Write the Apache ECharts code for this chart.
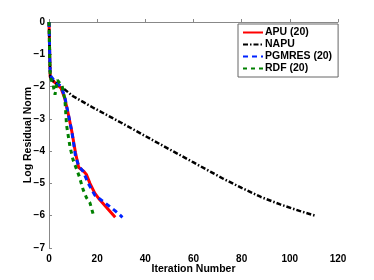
<!DOCTYPE html>
<html><head><meta charset="utf-8">
<script src="https://cdn.jsdelivr.net/npm/echarts@6/dist/echarts.min.js"></script>
<style>html,body{margin:0;padding:0;background:#fff}#c{width:374px;height:280px}</style>
</head><body><div id="c"></div>
<script>
var apuX = [0, 0.5, 2, 5, 6.5, 8, 9.5, 11, 12.3, 14.5, 15.5, 17, 19, 21, 24, 27.5];
var apuY = [0, -1.7, -1.85, -2.05, -2.35, -2.85, -3.4, -4.05, -4.5, -4.63, -4.72, -5.0, -5.3, -5.5, -5.75, -6.05];
var napuX = [0, 0.5, 2, 5, 10, 18, 30, 46, 60, 72, 80, 88, 96, 104, 111];
var napuY = [0, -1.7, -1.85, -2.0, -2.3, -2.64, -3.12, -3.78, -4.35, -4.84, -5.14, -5.42, -5.65, -5.85, -6.01];
var pgX = [0, 0.5, 2, 5, 6.5, 8, 9.5, 11, 12.3, 14.2, 16.3, 19, 22.5, 25.3, 27.5, 30.5];
var pgY = [0, -1.65, -1.8, -2.0, -2.3, -2.85, -3.4, -4.15, -4.45, -4.63, -5.0, -5.36, -5.56, -5.72, -5.85, -6.05];
var rdfX = [0, 0.5, 1.7, 2.5, 3.5, 5.5, 6.6, 7.3, 8.7, 10, 12.6, 14.2, 15.6, 17, 18.6];
var rdfY = [0, -1.7, -1.95, -2.25, -1.8, -2.0, -2.4, -3.2, -3.86, -4.27, -4.79, -5.2, -5.45, -5.6, -6.02];
var names = ['APU (20)', 'NAPU', 'PGMRES (20)', 'RDF (20)'];
var xTicks = [0, 20, 40, 60, 80, 100, 120];
var yTicks = [-7, -6, -5, -4, -3, -2, -1, 0];

function pairs(xs, ys) { return xs.map(function (x, i) { return [x, ys[i]]; }); }
var FONT = '"Liberation Sans", Arial, sans-serif';
var chart = echarts.init(document.getElementById('c'), null, {renderer: 'canvas'});
function lbl(v) { return String(v).replace('-', '\u2212'); }
function axisCommon(margin) {
  return {
    axisLine: {show: true, lineStyle: {color: '#888', width: 1}},
    axisTick: {show: true, inside: true, length: 3, lineStyle: {color: '#888'}},
    splitLine: {show: false},
    axisLabel: {color: '#000', fontWeight: 'bold', fontSize: 10, fontFamily: FONT, margin: margin, formatter: lbl},
    nameTextStyle: {color: '#000', fontWeight: 'bold', fontSize: 10.5, fontFamily: FONT},
    nameMoveOverlap: false
  };
}
chart.setOption({
  animation: false,
  backgroundColor: '#fff',
  grid: {left: 49, right: 36, top: 22, bottom: 32, containLabel: false},
  xAxis: Object.assign(axisCommon(6), {
    type: 'value', min: xTicks[0], max: xTicks[xTicks.length - 1], interval: 20,
    name: 'Iteration Number', nameLocation: 'middle', nameGap: 16
  }),
  yAxis: Object.assign(axisCommon(4), {
    type: 'value', min: yTicks[0], max: yTicks[yTicks.length - 1], interval: 1,
    name: 'Log Residual Norm', nameLocation: 'middle', nameGap: 15
  }),
  legend: {
    orient: 'vertical', left: 238, top: 24,
    padding: [3, 6, 3, 4], itemGap: 1, itemWidth: 20, itemHeight: 12,
    borderColor: '#666', borderWidth: 1, backgroundColor: '#fff',
    itemStyle: {opacity: 0},
    textStyle: {color: '#000', fontWeight: 'bold', fontSize: 10.5, fontFamily: FONT, padding: [0, 0, 0, -3]},
    data: names
  },
  series: [
    {name: names[0], type: 'line', symbol: 'none', data: pairs(apuX, apuY),
     lineStyle: {color: '#ff0000', width: 3}, itemStyle: {color: '#ff0000'}},
    {name: names[1], type: 'line', symbol: 'none', data: pairs(napuX, napuY),
     lineStyle: {color: '#000', width: 2.5, type: [5, 2, 1.5, 2]}, itemStyle: {color: '#000'}},
    {name: names[2], type: 'line', symbol: 'none', data: pairs(pgX, pgY),
     lineStyle: {color: '#0022ff', width: 3, type: [5, 4]}, itemStyle: {color: '#0022ff'}},
    {name: names[3], type: 'line', symbol: 'none', data: pairs(rdfX, rdfY),
     lineStyle: {color: '#008000', width: 3, type: [4, 4]}, itemStyle: {color: '#008000'}}
  ]
});
</script></body></html>
